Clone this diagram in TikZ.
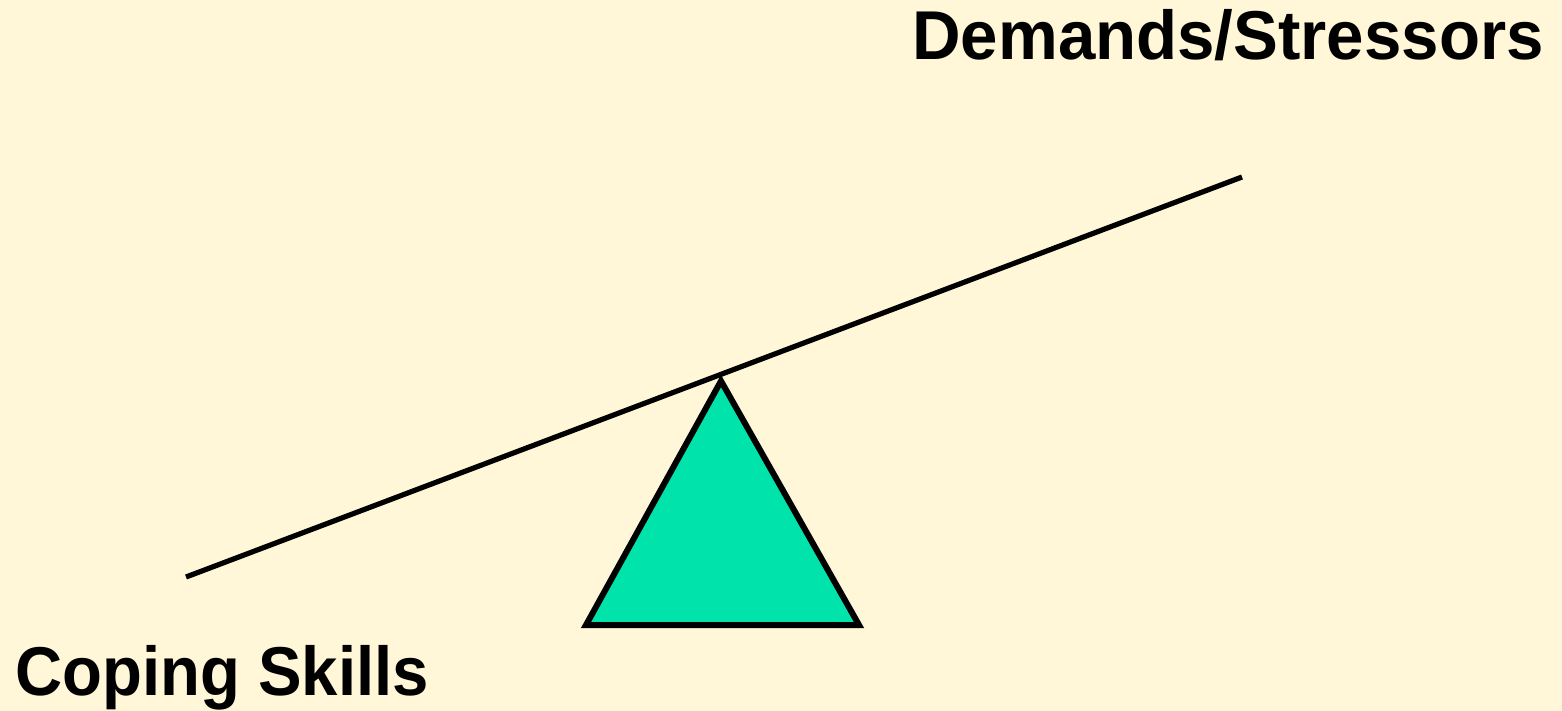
\documentclass[tikz,border=0pt]{standalone}
\usepackage{fontspec}
\setmainfont{Liberation Sans}
\usepackage{xcolor}
\usepackage{tikz}
\usetikzlibrary{positioning}

\definecolor{paper}{HTML}{FFF7D8}
\definecolor{pivot}{HTML}{00E3AA}

\tikzset{
    sidelabel/.style={font=\fontsize{32}{36}\selectfont\bfseries, inner sep=0pt, anchor=base west, yscale=1.08},
    beam/.style={line width=2.6pt},
}

\begin{document}
\begin{tikzpicture}[x=0.5pt, y=-0.5pt]

% Background
\fill[paper] (0,0) rectangle (1562,711);
\useasboundingbox (0,0) rectangle (1562,711);

% Beam
\coordinate (low) at (186,577);
\coordinate (high) at (1242,177);
\draw[beam] (low) -- (high);

% Fulcrum
\draw[pivot, fill=pivot] (721,381) -- (586,625) -- (859,625) -- cycle;
\draw[line width=3pt, line join=miter] (721,381) -- (586,625) -- (859,625) -- cycle;

% Labels
\node[sidelabel, xscale=1.05] (demands) at (912,60) {Demands/Stressors};
\node[sidelabel, xscale=1.02] (coping) at (15,695) {Coping Skills};

\end{tikzpicture}
\end{document}
